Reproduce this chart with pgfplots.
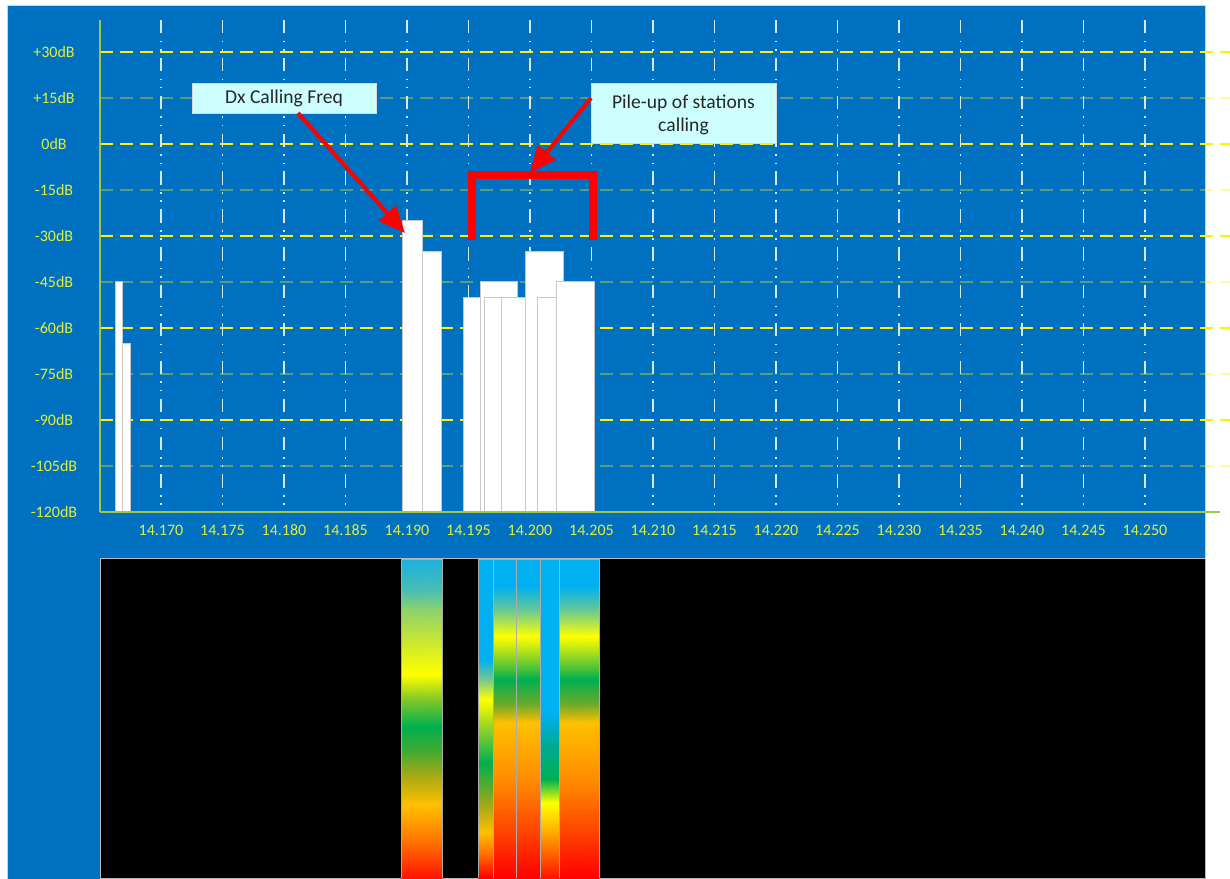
\documentclass[border=0pt]{standalone}
\usepackage{pgfplots}
\pgfplotsset{compat=1.18}
\usepackage{fontspec}
\setmainfont{Carlito}
\usetikzlibrary{arrows.meta}
\definecolor{panelblue}{RGB}{0,112,192}
\definecolor{ticklab}{RGB}{225,240,60}
\definecolor{spine}{RGB}{160,200,70}
\definecolor{calloutfill}{RGB}{205,255,255}
\definecolor{barEdge}{RGB}{200,200,200}
\definecolor{gridwhite}{RGB}{215,232,245}
\tikzset{specbar/.style={fill=white, draw=barEdge, line width=0.75pt},
  wfcol/.style={draw=gray!65, line width=0.75pt}}
\pgfplotsset{wfsurf/.style={surf, shader=interp, mesh/color input=explicit, point meta=explicit symbolic, mesh/cols=2}}

\begin{document}
\begin{tikzpicture}
\useasboundingbox (0,0) rectangle (922.5pt,658.5pt);
% ---------- background panel and grid (pixel units) ----------
\begin{scope}[x=0.75pt,y=-0.75pt,yshift=658.5pt]
  \fill[white] (0,0) rectangle (1230,878);
  \filldraw[fill=panelblue, draw=gray!35, line width=0.75pt] (7,6) rectangle (1205,882);
  \foreach \yy in {52,144,236,328,420}
    \draw[yellow, line width=1.1pt, dash pattern=on 9.75pt off 5.25pt] (100,\yy) -- (1230,\yy);
  \foreach \yy in {98,190,282,374,466}
    \draw[yellow, opacity=0.35, line width=1.1pt, dash pattern=on 9.75pt off 5.25pt] (100,\yy) -- (1230,\yy);
  \foreach \k in {0,...,16}
    \draw[gridwhite, line width=1.2pt, dash pattern=on 10pt off 5.5pt on 1.2pt off 5pt on 1.2pt off 5.5pt]
      ({161+61.5*\k},20) -- ({161+61.5*\k},512);
\end{scope}

% ---------- spectrum ----------
\begin{axis}[at={(75pt,274.5pt)}, anchor=south west, scale only axis,
  width=828.75pt, height=369pt,
  xmin=14.16504, xmax=14.25488, ymin=-120, ymax=40.435,
  axis line style={draw=none}, tick style={draw=none}, major tick length=0pt,
  scaled x ticks=false,
  xtick={14.170,14.175,14.180,14.185,14.190,14.195,14.200,14.205,14.210,14.215,14.220,14.225,14.230,14.235,14.240,14.245,14.250},
  xticklabels={14.170,14.175,14.180,14.185,14.190,14.195,14.200,14.205,14.210,14.215,14.220,14.225,14.230,14.235,14.240,14.245,14.250},
  ytick={-120,-105,-90,-75,-60,-45,-30,-15,0,15,30},
  yticklabels={-120dB,-105dB,-90dB,-75dB,-60dB,-45dB,-30dB,-15dB,0dB,+15dB,+30dB},
  ticklabel style={font=\fontsize{12}{14}\selectfont, text=ticklab},
  xticklabel style={anchor=center, yshift=-13.5pt},
  yticklabel style={anchor=center, xshift=-34.5pt},
]
% left signals
\addplot[specbar] coordinates {(14.16626,-120) (14.16626,-45) (14.16689,-45) (14.16689,-120)} --cycle;
\addplot[specbar] coordinates {(14.16689,-120) (14.16689,-65) (14.16754,-65) (14.16754,-120)} --cycle;
% DX station
\addplot[specbar] coordinates {(14.18965,-120) (14.18965,-25) (14.19122,-25) (14.19122,-120)} --cycle;
\addplot[specbar] coordinates {(14.19122,-120) (14.19122,-35) (14.19279,-35) (14.19279,-120)} --cycle;
% pile-up
\addplot[specbar] coordinates {(14.19463,-120) (14.19463,-50) (14.19594,-50) (14.19594,-120)} --cycle;
\addplot[specbar] coordinates {(14.19594,-120) (14.19594,-45) (14.19902,-45) (14.19902,-120)} --cycle;
\addplot[specbar] coordinates {(14.19634,-120) (14.19634,-50) (14.19770,-50) (14.19770,-120)} --cycle;
\addplot[specbar] coordinates {(14.19770,-120) (14.19770,-50) (14.19965,-50) (14.19965,-120)} --cycle;
\addplot[specbar] coordinates {(14.19965,-120) (14.19965,-35) (14.20276,-35) (14.20276,-120)} --cycle;
\addplot[specbar] coordinates {(14.20057,-120) (14.20057,-50) (14.20217,-50) (14.20217,-120)} --cycle;
\addplot[specbar] coordinates {(14.20217,-120) (14.20217,-45) (14.20523,-45) (14.20523,-120)} --cycle;
\end{axis}

% ---------- waterfall ----------
\begin{axis}[at={(75pt,0pt)}, anchor=south west, scale only axis,
  width=828.75pt, height=239.25pt,
  xmin=14.16504, xmax=14.25488, ymin=0, ymax=319,
  ticks=none, axis line style={draw=gray!55, line width=0.75pt},
  axis background/.style={fill=black},
]
\addplot[wfsurf] table[meta=c] {
x y c
14.18957 318 rgb=0.118,0.690,0.863
14.19290 318 rgb=0.118,0.690,0.863
14.18957 288 rgb=0.275,0.745,0.706
14.19290 288 rgb=0.275,0.745,0.706
14.18957 268 rgb=0.549,0.824,0.431
14.19290 268 rgb=0.549,0.824,0.431
14.18957 238 rgb=0.784,0.902,0.196
14.19290 238 rgb=0.784,0.902,0.196
14.18957 203 rgb=1,1,0
14.19290 203 rgb=1,1,0
14.18957 178 rgb=0.510,0.784,0.157
14.19290 178 rgb=0.510,0.784,0.157
14.18957 151 rgb=0,0.690,0.314
14.19290 151 rgb=0,0.690,0.314
14.18957 128 rgb=0.235,0.667,0.196
14.19290 128 rgb=0.235,0.667,0.196
14.18957 101 rgb=0.667,0.667,0.078
14.19290 101 rgb=0.667,0.667,0.078
14.18957 73 rgb=1,0.753,0
14.19290 73 rgb=1,0.753,0
14.18957 38 rgb=1,0.471,0
14.19290 38 rgb=1,0.471,0
14.18957 0 rgb=1,0.078,0
14.19290 0 rgb=1,0.078,0
};
\addplot[wfsurf] table[meta=c] {
x y c
14.19580 318 rgb=0,0.690,0.941
14.19707 318 rgb=0,0.690,0.941
14.19580 218 rgb=0,0.690,0.941
14.19707 218 rgb=0,0.690,0.941
14.19580 198 rgb=0.471,0.784,0.549
14.19707 198 rgb=0.471,0.784,0.549
14.19580 178 rgb=1,1,0
14.19707 178 rgb=1,1,0
14.19580 148 rgb=0.549,0.824,0.157
14.19707 148 rgb=0.549,0.824,0.157
14.19580 115 rgb=0,0.690,0.314
14.19707 115 rgb=0,0.690,0.314
14.19580 88 rgb=0.392,0.667,0.157
14.19707 88 rgb=0.392,0.667,0.157
14.19580 68 rgb=0.706,0.667,0.078
14.19707 68 rgb=0.706,0.667,0.078
14.19580 45 rgb=1,0.753,0
14.19707 45 rgb=1,0.753,0
14.19580 23 rgb=1,0.431,0
14.19707 23 rgb=1,0.431,0
14.19580 0 rgb=1,0,0
14.19707 0 rgb=1,0,0
};
\addplot[wfsurf] table[meta=c] {
x y c
14.19707 318 rgb=0,0.690,0.941
14.19892 318 rgb=0,0.690,0.941
14.19707 291 rgb=0,0.690,0.941
14.19892 291 rgb=0,0.690,0.941
14.19707 268 rgb=0.392,0.784,0.588
14.19892 268 rgb=0.392,0.784,0.588
14.19707 241 rgb=1,1,0
14.19892 241 rgb=1,1,0
14.19707 218 rgb=0.510,0.824,0.157
14.19892 218 rgb=0.510,0.824,0.157
14.19707 198 rgb=0,0.690,0.314
14.19892 198 rgb=0,0.690,0.314
14.19707 173 rgb=0.431,0.667,0.157
14.19892 173 rgb=0.431,0.667,0.157
14.19707 155 rgb=1,0.753,0
14.19892 155 rgb=1,0.753,0
14.19707 98 rgb=1,0.549,0
14.19892 98 rgb=1,0.549,0
14.19707 48 rgb=1,0.275,0
14.19892 48 rgb=1,0.275,0
14.19707 0 rgb=1,0,0
14.19892 0 rgb=1,0,0
};
\addplot[wfsurf] table[meta=c] {
x y c
14.19892 318 rgb=0,0.690,0.941
14.20087 318 rgb=0,0.690,0.941
14.19892 291 rgb=0,0.690,0.941
14.20087 291 rgb=0,0.690,0.941
14.19892 268 rgb=0.392,0.784,0.588
14.20087 268 rgb=0.392,0.784,0.588
14.19892 241 rgb=1,1,0
14.20087 241 rgb=1,1,0
14.19892 218 rgb=0.510,0.824,0.157
14.20087 218 rgb=0.510,0.824,0.157
14.19892 198 rgb=0,0.690,0.314
14.20087 198 rgb=0,0.690,0.314
14.19892 173 rgb=0.431,0.667,0.157
14.20087 173 rgb=0.431,0.667,0.157
14.19892 155 rgb=1,0.753,0
14.20087 155 rgb=1,0.753,0
14.19892 98 rgb=1,0.549,0
14.20087 98 rgb=1,0.549,0
14.19892 48 rgb=1,0.275,0
14.20087 48 rgb=1,0.275,0
14.19892 0 rgb=1,0,0
14.20087 0 rgb=1,0,0
};
\addplot[wfsurf] table[meta=c] {
x y c
14.20087 318 rgb=0,0.690,0.941
14.20238 318 rgb=0,0.690,0.941
14.20087 163 rgb=0,0.690,0.941
14.20238 163 rgb=0,0.690,0.941
14.20087 133 rgb=0,0.667,0.588
14.20238 133 rgb=0,0.667,0.588
14.20087 98 rgb=0,0.690,0.314
14.20238 98 rgb=0,0.690,0.314
14.20087 75 rgb=1,1,0
14.20238 75 rgb=1,1,0
14.20087 58 rgb=1,0.824,0
14.20238 58 rgb=1,0.824,0
14.20087 33 rgb=1,0.510,0
14.20238 33 rgb=1,0.510,0
14.20087 0 rgb=1,0.078,0
14.20238 0 rgb=1,0.078,0
};
\addplot[wfsurf] table[meta=c] {
x y c
14.20238 318 rgb=0,0.690,0.941
14.20569 318 rgb=0,0.690,0.941
14.20238 291 rgb=0,0.690,0.941
14.20569 291 rgb=0,0.690,0.941
14.20238 268 rgb=0.392,0.784,0.588
14.20569 268 rgb=0.392,0.784,0.588
14.20238 241 rgb=1,1,0
14.20569 241 rgb=1,1,0
14.20238 218 rgb=0.510,0.824,0.157
14.20569 218 rgb=0.510,0.824,0.157
14.20238 198 rgb=0,0.690,0.314
14.20569 198 rgb=0,0.690,0.314
14.20238 173 rgb=0.431,0.667,0.157
14.20569 173 rgb=0.431,0.667,0.157
14.20238 155 rgb=1,0.753,0
14.20569 155 rgb=1,0.753,0
14.20238 98 rgb=1,0.549,0
14.20569 98 rgb=1,0.549,0
14.20238 48 rgb=1,0.275,0
14.20569 48 rgb=1,0.275,0
14.20238 0 rgb=1,0,0
14.20569 0 rgb=1,0,0
};
\addplot[wfcol] coordinates {(14.18957,0) (14.18957,318) (14.19290,318) (14.19290,0)};
\addplot[wfcol] coordinates {(14.19580,0) (14.19580,318) (14.19707,318) (14.19707,0)};
\addplot[wfcol] coordinates {(14.19707,0) (14.19707,318) (14.19892,318) (14.19892,0)};
\addplot[wfcol] coordinates {(14.19892,0) (14.19892,318) (14.20087,318) (14.20087,0)};
\addplot[wfcol] coordinates {(14.20087,0) (14.20087,318) (14.20238,318) (14.20238,0)};
\addplot[wfcol] coordinates {(14.20238,0) (14.20238,318) (14.20569,318) (14.20569,0)};
\end{axis}

% ---------- spines and annotations (pixel units) ----------
\begin{scope}[x=0.75pt,y=-0.75pt,yshift=658.5pt]
  \draw[spine, line width=1.1pt] (100,20) -- (100,512);
  \draw[spine, line width=1.1pt] (100,512) -- (1220,512);
  % bracket over pile-up
  \draw[red, line width=6pt, line join=miter, line cap=butt] (472,240) -- (472,175) -- (593,175) -- (593,240);
  % callout boxes
  \filldraw[fill=calloutfill, draw=gray!30, line width=0.5pt] (192,83) rectangle (376,113);
  \node[anchor=base, text=black!85, font=\fontsize{14.7}{17}\selectfont, inner sep=0pt] at (284,104) {Dx Calling Freq};
  \filldraw[fill=calloutfill, draw=gray!30, line width=0.5pt] (591,83) rectangle (776,143);
  \node[anchor=base, text=black!85, font=\fontsize{14.7}{17}\selectfont, inner sep=0pt] at (683.5,108.3) {Pile-up of stations};
  \node[anchor=base, text=black!85, font=\fontsize{14.7}{17}\selectfont, inner sep=0pt] at (683.5,131.7) {calling};
  % arrows
  \draw[red, line width=3pt, -{Triangle[length=20pt,width=17pt]}] (298,113) -- (405,233);
  \draw[red, line width=3pt, -{Triangle[length=20pt,width=17pt]}] (591,98) -- (530,173);
\end{scope}
\end{tikzpicture}
\end{document}
